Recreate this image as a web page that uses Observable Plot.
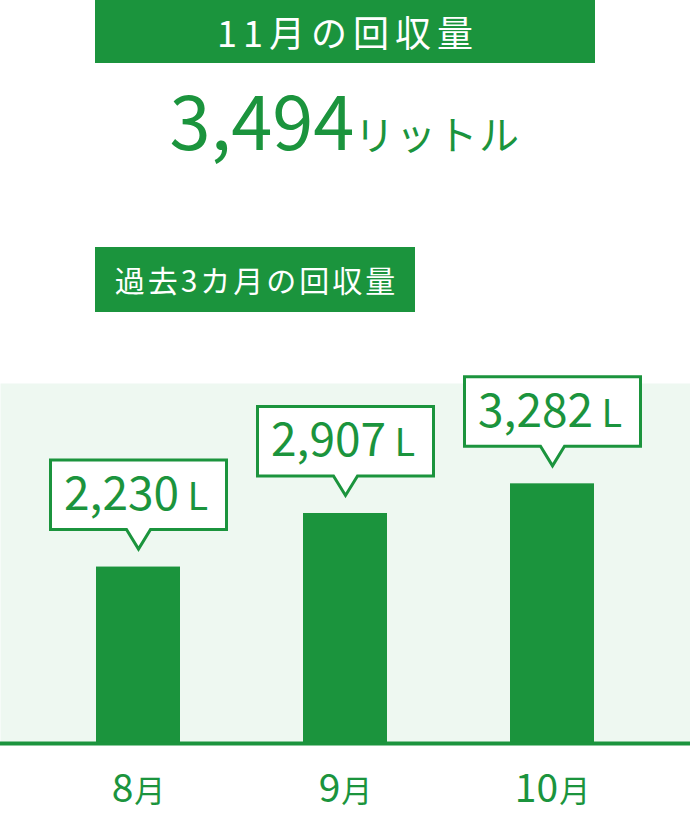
<!DOCTYPE html>
<html><head><meta charset="utf-8">
<script src="https://cdn.jsdelivr.net/npm/d3@7"></script>
<script src="https://cdn.jsdelivr.net/npm/@observablehq/plot@0.6"></script>
<style>
html,body{margin:0;padding:0;background:#fff;}
body{width:690px;height:813px;position:relative;overflow:hidden;font-family:'Noto Sans CJK JP','Noto Sans',sans-serif;}
.box{position:absolute;background:#1b943d;color:#fff;text-align:center;white-space:nowrap;}
#t1{left:95px;top:0;width:500px;height:63px;line-height:63px;font-size:36px;letter-spacing:6px;text-indent:6px;}
#t2{left:95px;top:247px;width:320px;height:65px;line-height:65px;font-size:30px;letter-spacing:3px;text-indent:3px;}
#big{position:absolute;left:0;top:82px;width:690px;text-align:center;color:#1b943d;line-height:72px;white-space:nowrap;}
#big .num{font-size:74px;font-weight:400;}
#big .unit{font-size:40px;font-weight:400;letter-spacing:1.5px;}
#chart{position:absolute;left:0;top:340px;}
</style></head><body>
<div id="t1" class="box"></div>
<div id="big"><span class="num"></span><span class="unit"></span></div>
<div id="t2" class="box"></div>
<div id="chart"></div>
<script>
// ---- data ----
const months = ["8月", "9月", "10月"];
const monthNumbers = ["8", "9", "10"];
const monthSuffix = "月";
const values = [2230, 2907, 3282];
const unitShort = "L";
const currentTitle = "11月の回収量";
const currentValue = 3494;
const currentUnit = "リットル";
const pastTitle = "過去3カ月の回収量";

// ---- header ----
const fmt = d3.format(",");
document.getElementById("t1").textContent = currentTitle;
document.querySelector("#big .num").textContent = fmt(currentValue);
document.querySelector("#big .unit").textContent = currentUnit;
document.getElementById("t2").textContent = pastTitle;

// ---- chart ----
const green = "#1b943d";
const panel = "#eef8f1";
const rows = months.map((m, i) => ({month: m, num: monthNumbers[i], value: values[i]}));

const callout = {
  draw(ctx) {
    const w = 88, top = -107, base = -37.5, hw = 12, tip = -18;
    ctx.moveTo(-w, top);
    ctx.lineTo(w, top);
    ctx.lineTo(w, base);
    ctx.lineTo(hw, base);
    ctx.lineTo(0, tip);
    ctx.lineTo(-hw, base);
    ctx.lineTo(-w, base);
    ctx.closePath();
  }
};

const cv = document.createElement("canvas").getContext("2d");
function tw(s, size) { cv.font = `400 ${size}px 'Noto Sans CJK JP'`; return cv.measureText(s).width; }

const labelMarks = rows.flatMap(r => {
  const wn = tw(r.num, 39), wm = tw(monthSuffix, 31), gap = 1;
  const total = wn + gap + wm;
  const dxNum = -total / 2 + wn;
  return [
    Plot.text([r], {x: "month", y: 0, text: d => d.num, dx: dxNum, dy: 58, textAnchor: "end", lineAnchor: "bottom", fontSize: 39, fontWeight: 400, fill: green}),
    Plot.text([r], {x: "month", y: 0, text: () => monthSuffix, dx: dxNum + gap, dy: 58, textAnchor: "start", lineAnchor: "bottom", fontSize: 31, fontWeight: 400, fill: green})
  ];
});

const chart = Plot.plot({
  width: 690,
  height: 473,
  marginTop: 43,
  marginBottom: 70,
  marginLeft: 0,
  marginRight: 0,
  style: {fontFamily: "'Noto Sans CJK JP', sans-serif", background: "transparent", overflow: "visible"},
  x: {domain: months, range: [33.25, 655.75], paddingInner: 0.595, paddingOuter: 0.2975, axis: null},
  y: {domain: [0, 4550], axis: null},
  marks: [
    Plot.frame({fill: panel, stroke: "none"}),
    Plot.barY(rows, {x: "month", y: "value", fill: green}),
    Plot.ruleY([0], {stroke: green, strokeWidth: 4}),
    Plot.dot(rows, {x: "month", y: "value", symbol: callout, r: 10, fill: "white", stroke: green, strokeWidth: 3, strokeLinejoin: "miter"}),
    Plot.text(rows, {x: "month", y: "value", text: d => fmt(d.value), dx: 40.5, dy: -57, textAnchor: "end", lineAnchor: "bottom", fontSize: 46, fontWeight: 400, fill: green}),
    Plot.text(rows, {x: "month", y: "value", text: () => unitShort, dx: 49, dy: -57, textAnchor: "start", lineAnchor: "bottom", fontSize: 38, fontWeight: 400, fill: green}),
    ...labelMarks
  ]
});
document.getElementById("chart").appendChild(chart);
</script>
</body></html>
